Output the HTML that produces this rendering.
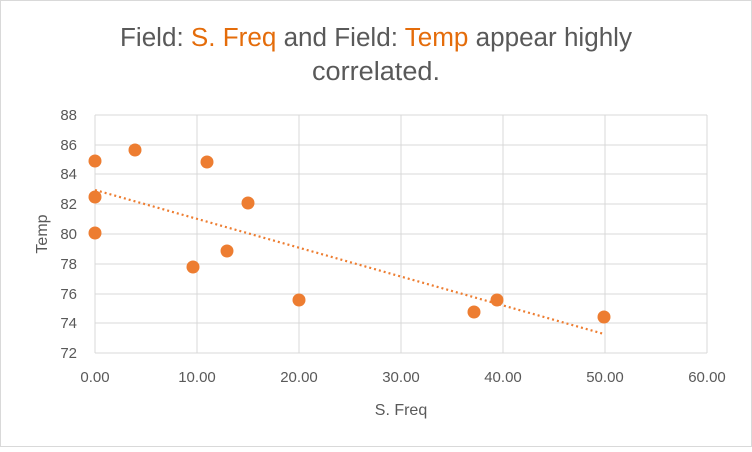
<!DOCTYPE html>
<html><head><meta charset="utf-8"><style>
body{margin:0;background:#fff;}
svg text{font-family:"Liberation Sans",sans-serif;}
</style></head><body>
<svg width="752" height="447" xmlns="http://www.w3.org/2000/svg">
<rect x="0.5" y="0.5" width="751" height="446" fill="#fff" stroke="#d9d9d9"/>
<text x="376" y="46" text-anchor="middle" font-size="25.5" fill="#595959" textLength="512" lengthAdjust="spacingAndGlyphs">Field: <tspan fill="#E46C0A">S. Freq</tspan> and Field: <tspan fill="#E46C0A">Temp</tspan> appear highly</text>
<text x="376" y="80" text-anchor="middle" font-size="25.5" fill="#595959" textLength="128" lengthAdjust="spacingAndGlyphs">correlated.</text>
<g stroke="#d9d9d9" stroke-width="1">
<line x1="95" y1="115" x2="707" y2="115"/>
<line x1="95" y1="145" x2="707" y2="145"/>
<line x1="95" y1="174" x2="707" y2="174"/>
<line x1="95" y1="204" x2="707" y2="204"/>
<line x1="95" y1="234" x2="707" y2="234"/>
<line x1="95" y1="264" x2="707" y2="264"/>
<line x1="95" y1="294" x2="707" y2="294"/>
<line x1="95" y1="323" x2="707" y2="323"/>
<line x1="95" y1="353" x2="707" y2="353"/>
<line x1="95" y1="115" x2="95" y2="353"/>
<line x1="197" y1="115" x2="197" y2="353"/>
<line x1="299" y1="115" x2="299" y2="353"/>
<line x1="401" y1="115" x2="401" y2="353"/>
<line x1="503" y1="115" x2="503" y2="353"/>
<line x1="605" y1="115" x2="605" y2="353"/>
<line x1="707" y1="115" x2="707" y2="353"/>
</g>
<g font-size="15" fill="#595959" text-anchor="end">
<text x="77" y="120">88</text><text x="77" y="150">86</text><text x="77" y="179">84</text>
<text x="77" y="209">82</text><text x="77" y="239">80</text><text x="77" y="269">78</text>
<text x="77" y="299">76</text><text x="77" y="328">74</text><text x="77" y="358">72</text>
</g>
<g font-size="15" fill="#595959" text-anchor="middle">
<text x="95" y="382">0.00</text><text x="197" y="382">10.00</text><text x="299" y="382">20.00</text>
<text x="401" y="382">30.00</text><text x="503" y="382">40.00</text><text x="605" y="382">50.00</text>
<text x="707" y="382">60.00</text>
<text x="401" y="415" font-size="16">S. Freq</text>
</g>
<text transform="translate(47,234) rotate(-90)" text-anchor="middle" font-size="16" fill="#595959">Temp</text>
<line x1="95" y1="190" x2="604" y2="334" stroke="#ED7D31" stroke-width="2.2" stroke-dasharray="2,3"/>
<g fill="#ED7D31">
<circle cx="95" cy="161" r="6.5"/><circle cx="135" cy="150" r="6.5"/><circle cx="207" cy="162" r="6.5"/>
<circle cx="95" cy="197" r="6.5"/><circle cx="248" cy="203" r="6.5"/><circle cx="95" cy="233" r="6.5"/>
<circle cx="227" cy="251" r="6.5"/><circle cx="193" cy="267" r="6.5"/><circle cx="299" cy="300" r="6.5"/>
<circle cx="474" cy="312" r="6.5"/><circle cx="497" cy="300" r="6.5"/><circle cx="604" cy="317" r="6.5"/>
</g>
</svg>
</body></html>
